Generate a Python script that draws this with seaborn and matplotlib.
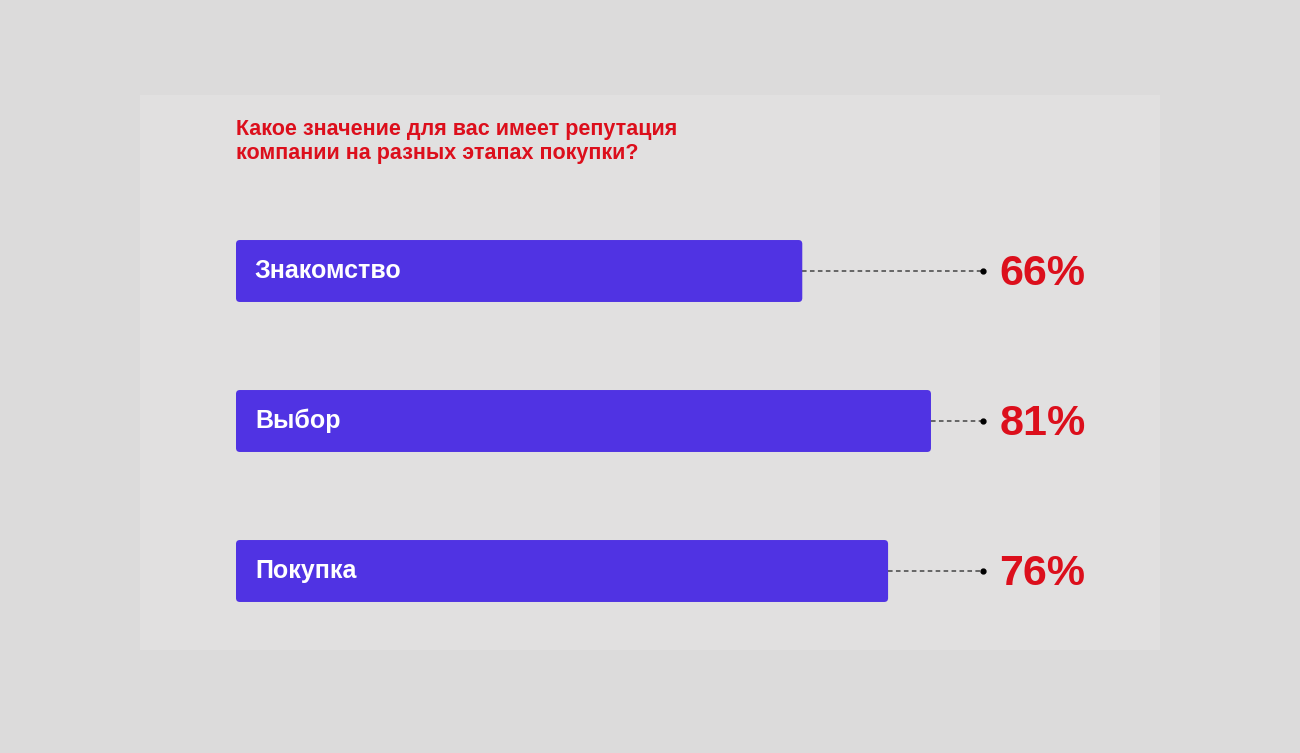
import matplotlib
matplotlib.use("Agg")
import matplotlib.pyplot as plt
from matplotlib.patches import FancyBboxPatch, Rectangle
import pandas as pd
import seaborn as sns

# данные
stages = ["Знакомство", "Выбор", "Покупка"]
values = [66, 81, 76]
title = "Какое значение для вас имеет репутация\nкомпании на разных этапах покупки?"

BAR = "#5033e3"
RED = "#dc0f1c"
BG = "#dcdbdb"

sns.set_theme(style="white")
plt.rcParams["font.family"] = ["Liberation Sans", "DejaVu Sans"]

df = pd.DataFrame({"stage": stages, "value": values})

fig = plt.figure(figsize=(13, 7.53), dpi=100, facecolor=BG)

# светлая подложка
bg = fig.add_axes([0, 0, 1, 1], zorder=-5)
bg.set_axis_off()
bg.set_xlim(0, 1)
bg.set_ylim(0, 1)
bg.add_patch(Rectangle((140 / 1300, 1 - 650 / 753), 1020 / 1300, 555 / 753,
                       facecolor="#e1e0e0", edgecolor="none"))

ax = fig.add_axes([236 / 1300, 107 / 753, 858 / 1300, 450 / 753])
ax.set_facecolor("none")
sns.barplot(data=df, y="stage", x="value", order=stages, orient="h",
            color=BAR, width=0.413, saturation=1, ax=ax)
ax.set_xlim(0, 100)
ax.set_ylim(2.5, -0.5)

# скруглённые углы
for p in list(ax.patches):
    x, y, w, h = p.get_x(), p.get_y(), p.get_width(), p.get_height()
    p.set_visible(False)
    ax.add_patch(FancyBboxPatch((x, y), w, h,
                                boxstyle="round,pad=0,rounding_size=0.45",
                                mutation_aspect=0.058, facecolor=BAR,
                                edgecolor="none", zorder=2))

for i, (s, v) in enumerate(zip(stages, values)):
    ax.text(2.2, i, s, color="white", fontsize=18, fontweight="bold",
            va="center", ha="left", zorder=3)
    ax.plot([v, 87.1], [i, i], color="#444444", lw=1.1, ls=(0, (3, 2.2)),
            zorder=1)
    ax.plot([87.1], [i], "o", color="black", ms=3.5, zorder=3)
    ax.text(89.0, i + 0.02, f"{v}%", color=RED, fontsize=31,
            fontweight="bold", va="center", ha="left")

ax.set_xlabel("")
ax.set_ylabel("")
ax.set_xticks([])
ax.set_yticks([])
sns.despine(ax=ax, left=True, bottom=True)

fig.text(236 / 1300, 1 - 119 / 753, title, color=RED, fontsize=15.5,
         fontweight="bold", va="top", ha="left", linespacing=1.2)

fig.savefig("out.png", dpi=100, facecolor=BG)
